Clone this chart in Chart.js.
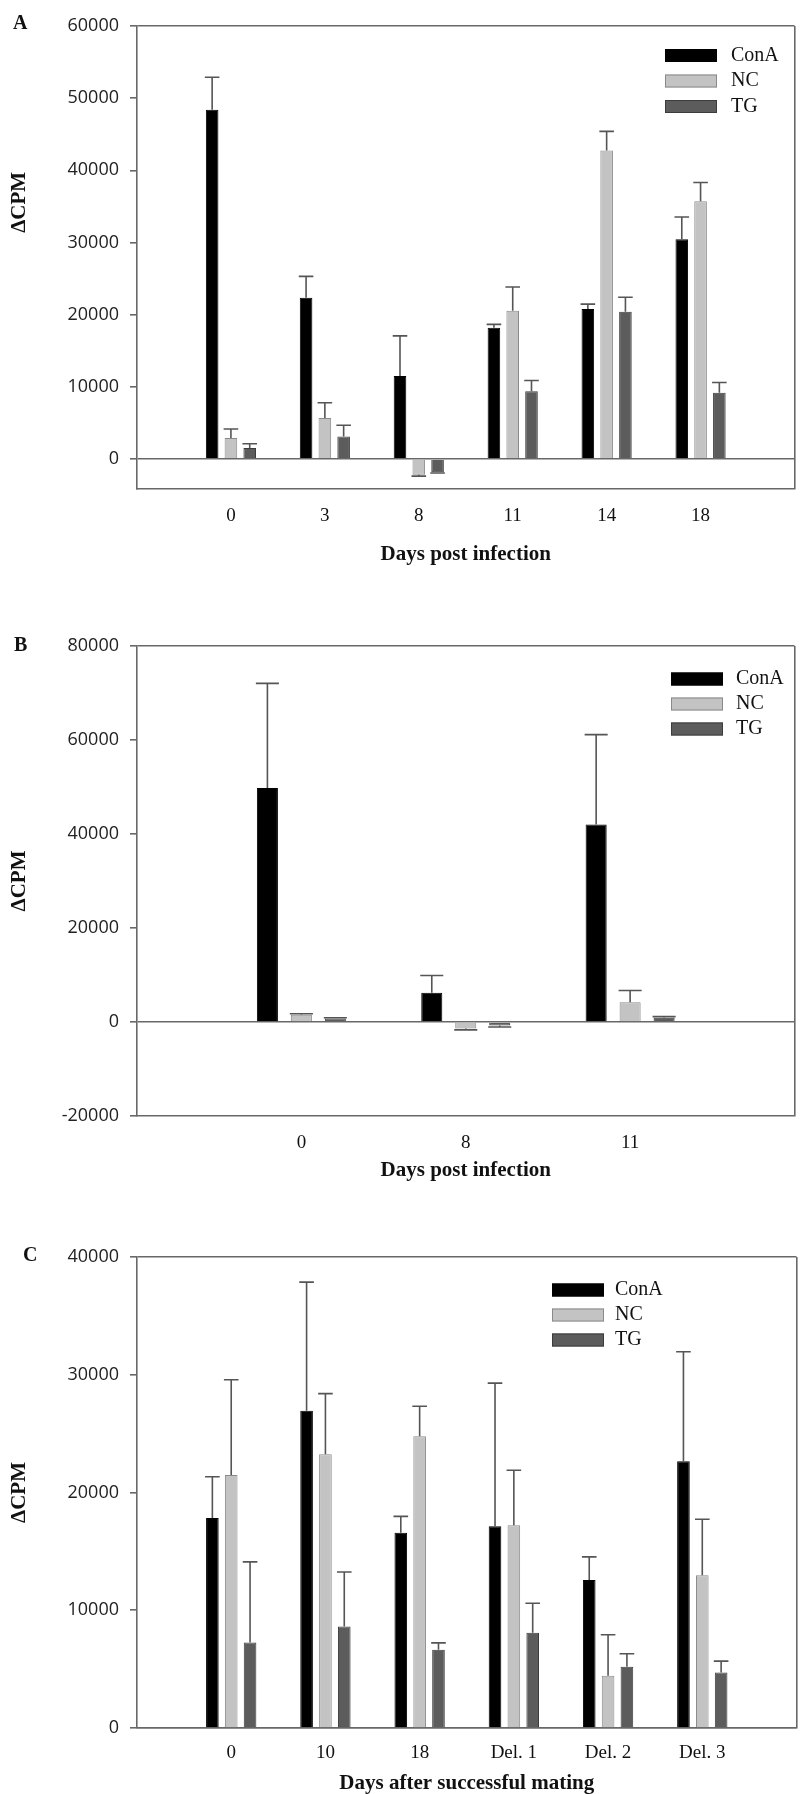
<!DOCTYPE html>
<html>
<head>
<meta charset="utf-8">
<script src="https://cdn.jsdelivr.net/npm/chart.js@4/dist/chart.umd.min.js"></script>
<style>
  html, body { margin: 0; padding: 0; background: #ffffff; }
  body { width: 810px; height: 1794px; position: relative; overflow: hidden; }
  .panel { position: absolute; left: 0; width: 810px; }
</style>
</head>
<body>
<div class="panel" style="top:0px;height:590px;"><canvas id="chartA"></canvas></div>
<div class="panel" style="top:590px;height:600px;"><canvas id="chartB"></canvas></div>
<div class="panel" style="top:1190px;height:604px;"><canvas id="chartC"></canvas></div>
<script>
// ---------------- DATA ----------------
const seriesNames = ['ConA', 'NC', 'TG'];

// Panel A
const categoriesA = ['0', '3', '8', '11', '14', '18'];
const conA_A = [48400, 22350, 11500, 18170, 20760, 30450];
const conA_A_err = [4500, 2950, 5550, 480, 690, 3080];
const nc_A = [2900, 5670, -2200, 20550, 42740, 35700];
const nc_A_err = [1250, 2120, 180, 3280, 2650, 2600];
const tg_A = [1500, 3120, -1850, 9375, 20390, 9160];
const tg_A_err = [600, 1540, 110, 1485, 2010, 1440];
const yTicksA = [0, 10000, 20000, 30000, 40000, 50000, 60000];

// Panel B
const categoriesB = ['0', '8', '11'];
const conA_B = [49800, 6230, 42000];
const conA_B_err = [22240, 3650, 19150];
const nc_B = [1520, -1370, 4180];
const nc_B_err = [230, 300, 2510];
const tg_B = [760, -760, 910];
const tg_B_err = [150, 300, 230];
const yTicksB = [-20000, 0, 20000, 40000, 60000, 80000];

// Panel C
const categoriesC = ['0', '10', '18', 'Del. 1', 'Del. 2', 'Del. 3'];
const conA_C = [17830, 26950, 16590, 17140, 12560, 22650];
const conA_C_err = [3510, 10920, 1380, 12150, 1970, 9300];
const nc_C = [21480, 23240, 24780, 17210, 4440, 12980];
const nc_C_err = [8100, 5160, 2550, 4680, 3480, 4750];
const tg_C = [7260, 8610, 6640, 8090, 5200, 4720];
const tg_C_err = [6850, 4640, 590, 2510, 1100, 960];
const yTicksC = [0, 10000, 20000, 30000, 40000];

// ---------------- STYLE ----------------
const fills = ['#000000', '#c3c3c3', '#5c5c5c'];
const borders = ['#000000', '#8a8a8a', '#3c3c3c'];
const axisColor = '#686868';
const serif = "'Liberation Serif', 'Times New Roman', serif";
const sans = "'Open Sans', 'Liberation Sans', sans-serif";

// error bars plugin (uses library scales)
const errorBarPlugin = {
  id: 'errorBars',
  afterDatasetsDraw(chart) {
    const errs = chart.options.plugins.errorBars.errors;
    const yScale = chart.scales.y;
    const ctx = chart.ctx;
    ctx.save();
    ctx.strokeStyle = '#555555';
    ctx.lineWidth = 1.6;
    chart.data.datasets.forEach((ds, i) => {
      const meta = chart.getDatasetMeta(i);
      meta.data.forEach((bar, j) => {
        const v = ds.data[j];
        if (v === null || v === undefined) return;
        const e = errs[i][j - 1];
        if (e === undefined) return;
        const sign = v < 0 ? -1 : 1;
        const y0 = yScale.getPixelForValue(v);
        const y1 = yScale.getPixelForValue(v + sign * e);
        const half = bar.width / 2 + 1;
        ctx.beginPath();
        ctx.moveTo(bar.x, y0);
        ctx.lineTo(bar.x, y1);
        ctx.moveTo(bar.x - half, y1);
        ctx.lineTo(bar.x + half, y1);
        ctx.stroke();
      });
    });
    ctx.restore();
  }
};

// panel letter + legend plugin
const panelPlugin = {
  id: 'panelDecor',
  afterDraw(chart) {
    const o = chart.options.plugins.panelDecor;
    const ctx = chart.ctx;
    ctx.save();
    ctx.fillStyle = '#111';
    ctx.font = 'bold 20px ' + serif;
    ctx.textAlign = 'left';
    ctx.textBaseline = 'middle';
    ctx.fillText(o.letter, o.letterX, o.letterY);
    // legend
    ctx.font = '20px ' + serif;
    chart.data.datasets.forEach((ds, i) => {
      const cy = o.legendY + i * o.legendGap;
      ctx.fillStyle = ds.backgroundColor;
      ctx.fillRect(o.legendX, cy - 6.5, 52, 13);
      ctx.strokeStyle = ds.borderColor;
      ctx.lineWidth = 1;
      ctx.strokeRect(o.legendX + 0.5, cy - 6, 51, 12);
      ctx.fillStyle = '#111';
      ctx.fillText(ds.label, o.textX, cy);
    });
    ctx.restore();
  }
};

function makeChart(id, cats, series, errors, yTicks, yMin, yMax, geom) {
  const labels = [''].concat(cats).concat(['']);
  const datasets = series.map((vals, i) => ({
    label: seriesNames[i],
    data: [null].concat(vals).concat([null]),
    backgroundColor: fills[i],
    borderColor: borders[i],
    borderWidth: 1,
    categoryPercentage: geom.catPct,
    barPercentage: geom.barPct
  }));
  const canvasH = geom.height;
  return new Chart(document.getElementById(id), {
    type: 'bar',
    data: { labels, datasets },
    options: {
      responsive: true,
      maintainAspectRatio: false,
      devicePixelRatio: 1,
      animation: false,
      layout: { padding: { top: geom.top, left: 0, right: 1, bottom: 0 } },
      plugins: {
        legend: { display: false },
        tooltip: { enabled: false },
        errorBars: { errors },
        panelDecor: geom.decor
      },
      scales: {
        x: {
          type: 'category',
          offset: false,
          grid: {
            display: true,
            offset: false,
            drawTicks: false,
            color: (c) => (c.index === labels.length - 1 ? axisColor : 'rgba(0,0,0,0)'),
            lineWidth: 1.6
          },
          border: { display: true, color: axisColor, width: 1.6 },
          ticks: {
            color: '#111',
            font: { family: serif, size: 19 },
            padding: geom.xTickPad,
            maxRotation: 0,
            autoSkip: false
          },
          title: {
            display: true,
            text: geom.xTitle,
            color: '#111',
            font: { family: serif, size: 21, weight: 'bold', lineHeight: 1 },
            padding: { top: 0, bottom: geom.xTitlePad }
          },
          afterFit(scale) { scale.height = canvasH - geom.bottom; }
        },
        y: {
          min: yMin,
          max: yMax,
          afterBuildTicks(scale) { scale.ticks = yTicks.map(v => ({ value: v })); },
          afterFit(scale) { scale.width = 137; },
          grid: {
            display: true,
            drawOnChartArea: true,
            drawTicks: true,
            tickLength: 7,
            lineWidth: 1.6,
            tickColor: axisColor,
            color: (c) => (c.tick && (c.tick.value === 0 || c.tick.value === yMax) ? axisColor : 'rgba(0,0,0,0)')
          },
          border: { display: true, color: axisColor, width: 1.6 },
          ticks: {
            color: '#222',
            font: { family: sans, size: 18 },
            padding: 11,
            callback: (v) => String(v)
          },
          title: {
            display: true,
            text: geom.yTitle,
            color: '#111',
            font: { family: serif, size: 21, weight: 'bold', lineHeight: 1 },
            padding: { top: 9, bottom: 0 }
          }
        }
      }
    },
    plugins: [errorBarPlugin, panelPlugin]
  });
}

const yTitleA = '\u00a0'.repeat(21) + '\u0394CPM';

makeChart('chartA', categoriesA,
  [conA_A, nc_A, tg_A], [conA_A_err, nc_A_err, tg_A_err],
  yTicksA, -4170, 60000,
  { height: 590, top: 26, bottom: 489, catPct: 0.6, barPct: 0.67, xTickPad: 15.5, xTitle: 'Days post infection', xTitlePad: 24.5, yTitle: yTitleA,
    decor: { letter: 'A', letterX: 13, letterY: 24, legendX: 665, legendY: 55.5, legendGap: 25.5, textX: 731 } });

makeChart('chartB', categoriesB,
  [conA_B, nc_B, tg_B], [conA_B_err, nc_B_err, tg_B_err],
  yTicksB, -20000, 80000,
  { height: 600, top: 56, bottom: 526, catPct: 0.62, barPct: 0.62, xTickPad: 15.5, xTitle: 'Days post infection', xTitlePad: 8.5, yTitle: '\u0394CPM',
    decor: { letter: 'B', letterX: 14, letterY: 56, legendX: 671, legendY: 89, legendGap: 25, textX: 736 } });

makeChart('chartC', categoriesC,
  [conA_C, nc_C, tg_C], [conA_C_err, nc_C_err, tg_C_err],
  yTicksC, 0, 40000,
  { height: 604, top: 67, bottom: 538, catPct: 0.6, barPct: 0.67, xTickPad: 13.5, xTitle: 'Days after successful mating', xTitlePad: 0, yTitle: '\u0394CPM',
    decor: { letter: 'C', letterX: 23, letterY: 66, legendX: 552, legendY: 100, legendGap: 25, textX: 615 } });
</script>
</body>
</html>
